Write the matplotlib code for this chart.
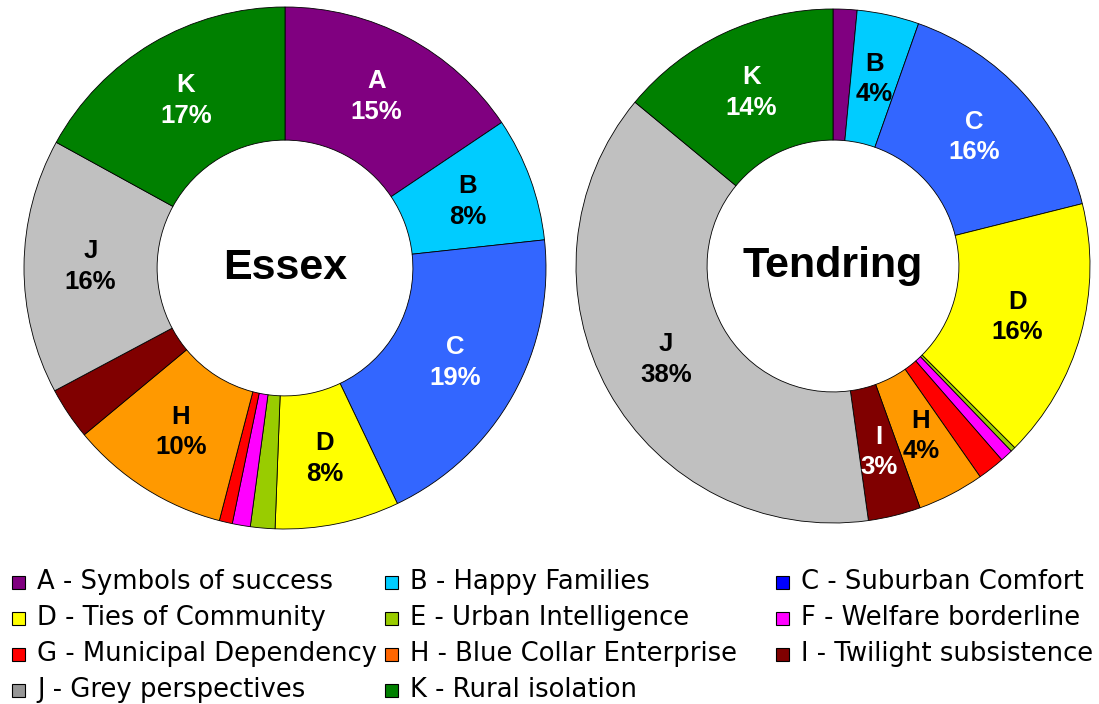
import numpy as np
import matplotlib
matplotlib.use("Agg")
import matplotlib.pyplot as plt
from matplotlib.patches import Rectangle

# segment codes and names
codes = ["A", "B", "C", "D", "E", "F", "G", "H", "I", "J", "K"]
names = ["Symbols of success", "Happy Families", "Suburban Comfort",
         "Ties of Community", "Urban Intelligence", "Welfare borderline",
         "Municipal Dependency", "Blue Collar Enterprise", "Twilight subsistence",
         "Grey perspectives", "Rural isolation"]

# share of households (%)
essex = [15.4, 7.6, 19.4, 7.6, 1.5, 1.1, 0.8, 9.8, 3.2, 15.6, 16.8]
tendring = [1.5, 3.9, 15.7, 16.4, 0.3, 0.8, 1.7, 4.2, 3.3, 38.2, 14.0]

# which wedges carry a label in each chart
essex_lab = ["A", "B", "C", "D", "H", "J", "K"]
tendring_lab = ["B", "C", "D", "H", "I", "J", "K"]

wedge_cols = ["#800080", "#00CCFF", "#3366FF", "#FFFF00", "#99CC00", "#FF00FF",
              "#FF0000", "#FF9900", "#800000", "#C0C0C0", "#008000"]
legend_cols = ["#800080", "#00CCFF", "#0000FF", "#FFFF00", "#99CC00", "#FF00FF",
               "#FF0000", "#FF6600", "#800000", "#969696", "#008000"]
white_txt = {"A", "C", "I", "K"}

W, H = 1099, 704
fig = plt.figure(figsize=(W / 100, H / 100), dpi=100)
bold = dict(family=["Liberation Sans", "DejaVu Sans"], weight="bold")


def donut(cx, cy, R, vals, labelled, title):
    ax = fig.add_axes([(cx - R) / W, (H - cy - R) / H, 2 * R / W, 2 * R / H])
    wedges, _ = ax.pie(vals, colors=wedge_cols, startangle=90, counterclock=False,
                       radius=1, wedgeprops=dict(width=0.51, edgecolor="black", linewidth=0.6))
    for w, c, v in zip(wedges, codes, vals):
        if c not in labelled:
            continue
        ang = np.deg2rad((w.theta1 + w.theta2) / 2)
        r = 0.745
        ax.text(r * np.cos(ang), r * np.sin(ang), f"{c}\n{round(v)}%",
                ha="center", va="center", fontsize=18.5, linespacing=1.35,
                color="white" if c in white_txt else "black", **bold)
    ax.text(0, 0, title, ha="center", va="center", fontsize=31, **bold)
    ax.set_xlim(-1, 1)
    ax.set_ylim(-1, 1)
    ax.set_aspect("equal")
    ax.axis("off")


donut(285, 268, 261, essex, essex_lab, "Essex")
donut(833, 266, 257, tendring, tendring_lab, "Tendring")

# legend laid out row by row, three columns
lax = fig.add_axes([0, 0, 1, 1])
lax.set_xlim(0, W)
lax.set_ylim(H, 0)
lax.axis("off")
col_x = [12, 385, 776]
for i, (c, n, col) in enumerate(zip(codes, names, legend_cols)):
    x = col_x[i % 3]
    y = 582 + 36 * (i // 3)
    lax.add_patch(Rectangle((x, y - 6.5), 13, 13, facecolor=col, edgecolor="black", lw=0.8))
    lax.text(x + 25, y, f"{c} - {n}", va="center", ha="left", fontsize=18.6,
             family=["DejaVu Sans"])

fig.savefig("out.png", dpi=100)
